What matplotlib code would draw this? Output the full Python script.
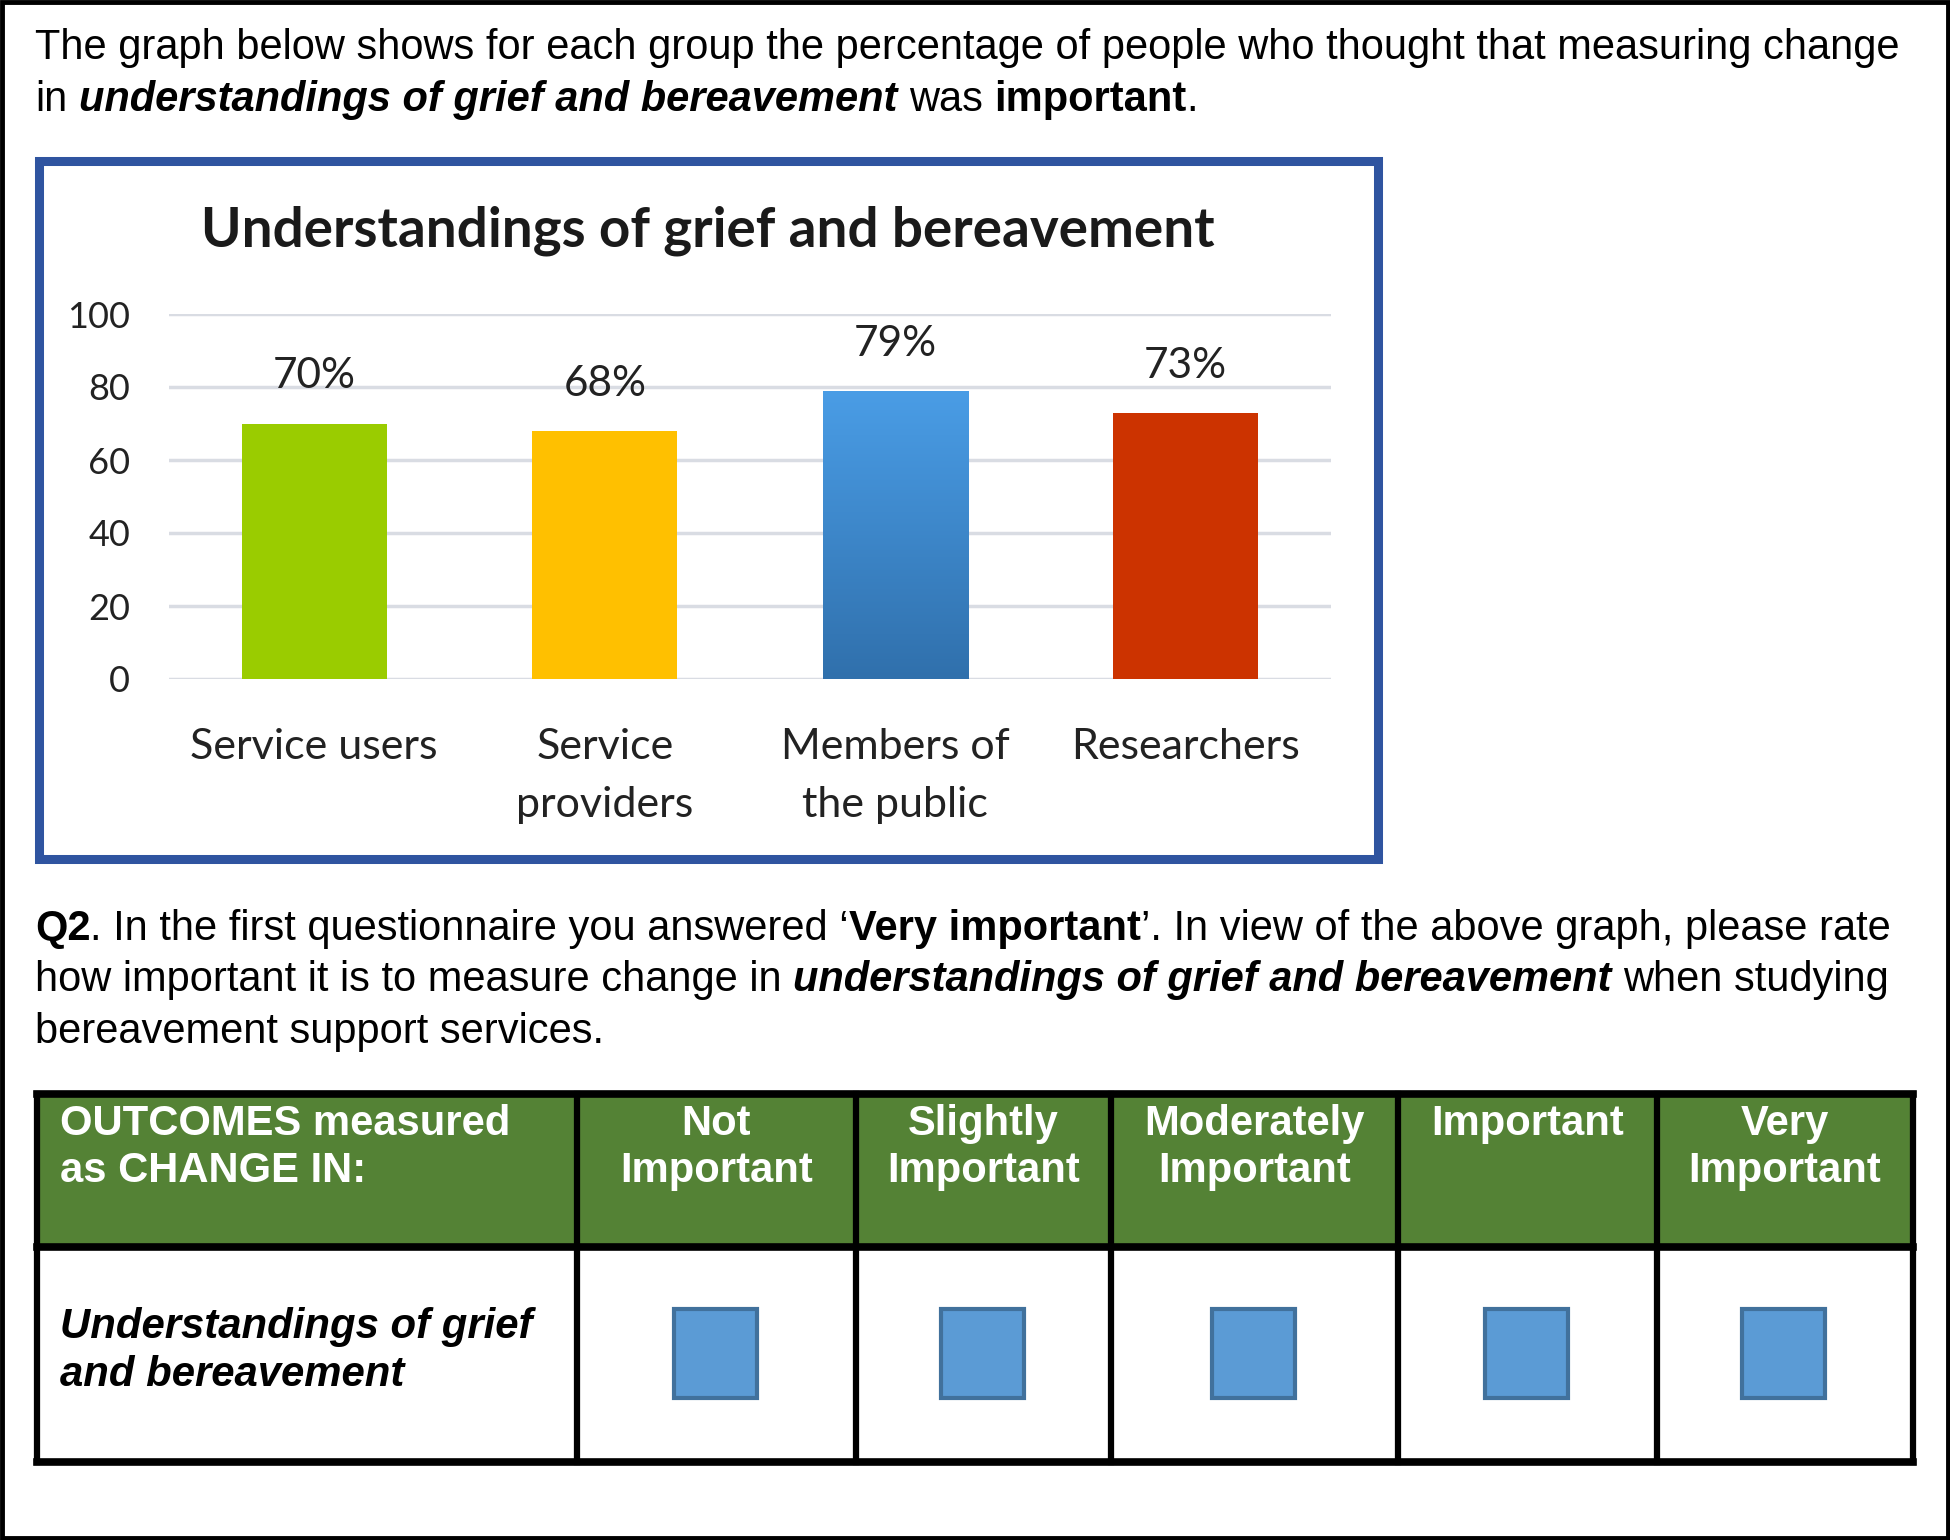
import matplotlib
matplotlib.use("Agg")
import matplotlib.pyplot as plt
import numpy as np
from matplotlib.patches import Rectangle
from matplotlib.colors import LinearSegmentedColormap

# ---------------- data ----------------
chart_title = "Understandings of grief and bereavement"
categories = ["Service users", "Service\nproviders", "Members of\nthe public", "Researchers"]
values = [70, 68, 79, 73]
yticks = [0, 20, 40, 60, 80, 100]
bar_colors = ["#9ACC00", "#FFC000", "#3F8BD4", "#CC3300"]

header_first = ["OUTCOMES measured", "as CHANGE IN:"]
rating_headers = [["Not", "Important"], ["Slightly", "Important"], ["Moderately", "Important"],
                  ["Important"], ["Very", "Important"]]
row_label = ["Understandings of grief", "and bereavement"]

para1 = [
    [("The graph below shows for each group the percentage of people who thought that measuring change", "normal", "normal")],
    [("in ", "normal", "normal"), ("understandings of grief and bereavement", "bold", "italic"),
     (" was ", "normal", "normal"), ("important", "bold", "normal"), (".", "normal", "normal")],
]
para2 = [
    [("Q2", "bold", "normal"), (". In the first questionnaire you answered \u2018", "normal", "normal"),
     ("Very important", "bold", "normal"), ("\u2019. In view of the above graph, please rate", "normal", "normal")],
    [("how important it is to measure change in ", "normal", "normal"),
     ("understandings of grief and bereavement", "bold", "italic"), (" when studying", "normal", "normal")],
    [("bereavement support services.", "normal", "normal")],
]

# ---------------- figure ----------------
W, H = 1950, 1540
fig = plt.figure(figsize=(W / 100, H / 100), dpi=100)
fig.patch.set_facecolor("white")
renderer = fig.canvas.get_renderer()

page = fig.add_axes([0, 0, 1, 1])
page.set_xlim(0, W)
page.set_ylim(H, 0)
page.axis("off")
page.set_zorder(0)

BODY = "Liberation Sans"


def text_width(s, size, weight="normal", style="normal", family=BODY):
    t = page.text(0, 0, s, fontsize=size, fontweight=weight, fontstyle=style, family=family)
    w = t.get_window_extent(renderer).width
    t.remove()
    return w


def fit(s, target, weight="normal", style="normal", family=BODY):
    return 20 * target / text_width(s, 20, weight, style, family)


def draw_runs(x, y, parts, size, color="black"):
    for txt, w, st in parts:
        sw = text_width("a a", size, w, st) - text_width("aa", size, w, st)
        lead = len(txt) - len(txt.lstrip(" "))
        trail = len(txt) - len(txt.rstrip(" "))
        core = txt.strip(" ")
        x += lead * sw
        if core:
            page.text(x, y, core, fontsize=size, fontweight=w, fontstyle=st, family=BODY,
                      va="baseline", ha="left", color=color)
            x += text_width(core, size, w, st)
        x += trail * sw


body_size = fit(para1[0][0][0], 1862)

for i, line in enumerate(para1):
    draw_runs(35, 59 + 52 * i, line, body_size)
for i, line in enumerate(para2):
    draw_runs(35, 940 + 51.5 * i, line, body_size)

# outer frame
page.add_patch(Rectangle((2, 2), W - 4, H - 4, fill=False, ec="black", lw=3.5, zorder=5))

# chart box
page.add_patch(Rectangle((38.5, 160.5), 1339, 698, fill=False, ec="#2F54A0", lw=6.5, zorder=5))

# ---------------- bar chart ----------------
CH = "Lato"
ax = fig.add_axes([169 / W, 1 - 679 / H, 1162 / W, 365 / H])
ax.set_zorder(2)
ax.patch.set_alpha(0)
x = np.arange(len(categories))
bars = ax.bar(x, values, width=0.5, color=bar_colors, zorder=3)

# gradient for the blue bar
bb = bars[2]
grad = np.linspace(0, 1, 256).reshape(-1, 1)
cmap = LinearSegmentedColormap.from_list("b", ["#3070AC", "#4A9DE6"])
im = ax.imshow(grad, extent=[bb.get_x(), bb.get_x() + bb.get_width(), 0, bb.get_height()],
               origin="lower", aspect="auto", cmap=cmap, zorder=4)
im.set_clip_path(bb)

ax.set_xlim(-0.5, 3.5)
ax.set_ylim(0, 100)
for s in ax.spines.values():
    s.set_visible(False)
ax.set_yticks(yticks)
ax.set_yticklabels([str(v) for v in yticks], fontsize=26, family=CH, color="#222222")
ax.yaxis.grid(True, color="#D9DCE3", lw=2.5, zorder=0)
ax.set_axisbelow(True)
ax.tick_params(axis="y", length=0, pad=28)
ax.set_xticks(x)
ax.set_xticklabels(categories, fontsize=31, family=CH, color="#222222", linespacing=1.65)
ax.tick_params(axis="x", length=0, pad=35)

for b, v in zip(bars, values):
    ax.annotate(f"{v}%", (b.get_x() + b.get_width() / 2, v), xytext=(0, 47),
                textcoords="offset pixels", ha="center", va="center",
                fontsize=30.5, family=CH, color="#222222")

title_size = fit(chart_title, 1014, "bold", family=CH)
page.text(708, 231, chart_title, fontsize=title_size, fontweight="bold", family=CH,
          ha="center", va="center", color="#1A1A1A")

# ---------------- table ----------------
col_x = [37, 577, 856, 1111, 1398, 1657, 1913]
row_y = [1094, 1247, 1462]
page.add_patch(Rectangle((col_x[0], row_y[0]), col_x[-1] - col_x[0], row_y[1] - row_y[0],
                         fc="#548235", ec="none", zorder=1))
for cx in col_x:
    page.plot([cx, cx], [row_y[0], row_y[-1]], color="black", lw=4.5, zorder=3,
              solid_capstyle="projecting")
for ry in row_y:
    page.plot([col_x[0], col_x[-1]], [ry, ry], color="black", lw=5.5, zorder=3,
              solid_capstyle="projecting")

hsize = fit(header_first[0], 449, "bold")
for i, s in enumerate(header_first):
    page.text(60, 1135 + 47 * i, s, fontsize=hsize, fontweight="bold", family=BODY,
              color="white", va="baseline", ha="left", zorder=4)
for c, lines in enumerate(rating_headers):
    cx = (col_x[c + 1] + col_x[c + 2]) / 2
    for i, s in enumerate(lines):
        page.text(cx, 1135 + 47 * i, s, fontsize=hsize, fontweight="bold", family=BODY,
                  color="white", va="baseline", ha="center", zorder=4)

rsize = fit(row_label[0], 472, "bold", "italic")
for i, s in enumerate(row_label):
    page.text(60, 1338 + 48 * i, s, fontsize=rsize, fontweight="bold", fontstyle="italic",
              family=BODY, color="black", va="baseline", ha="left", zorder=4)

for c in range(len(rating_headers)):
    cx = (col_x[c + 1] + col_x[c + 2]) / 2 - 2
    page.add_patch(Rectangle((cx - 41, 1309), 83, 89, fc="#5B9BD5", ec="#41719C", lw=3, zorder=4))

fig.savefig("out.png", dpi=100, facecolor="white")
